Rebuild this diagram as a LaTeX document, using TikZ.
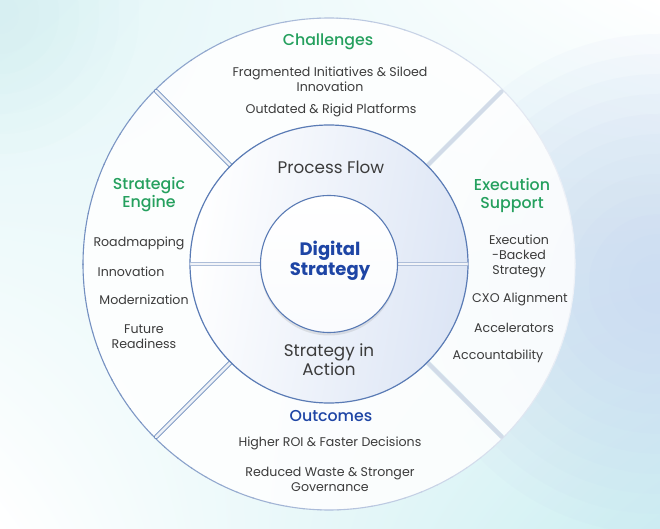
\documentclass[tikz,border=0pt]{standalone}
\usepackage{fontspec}
\setmainfont{Poppins}
\newfontfamily\medfont{Poppins Medium}
\usetikzlibrary{shadows,shadings}

\definecolor{ringblue}{HTML}{5A7BB5}
\definecolor{lightring}{HTML}{D2DBE8}
\definecolor{headgreen}{HTML}{25A05E}
\definecolor{headblue}{HTML}{1E45A5}
\definecolor{bodygray}{HTML}{3C3C3C}
\definecolor{bgblue}{HTML}{C2D2F2}
\definecolor{bgcyan}{HTML}{CDEFF2}
\definecolor{midshade}{HTML}{DCE5F5}

\tikzset{
  headtext/.style={font=\fontsize{15.8}{18}\medfont, text=headgreen, align=center, inner sep=0pt},
  bodytext/.style={font=\fontsize{12.6}{15}\selectfont, text=bodygray, align=center, inner sep=0pt},
  ringtext/.style={font=\fontsize{16.8}{19}\selectfont, text=bodygray, align=center, inner sep=0pt},
}

\begin{document}
\begin{tikzpicture}[x=1pt, y=1pt, line join=round, line cap=round]
	\tikzset{declare function={ro=246; rm=139; ri=68.5;}}
	\useasboundingbox (-329,-265) rectangle (331,264);
	% background
	\shade [upper left=bgcyan!60!white, upper right=white, lower left=white, lower right=bgcyan] (-329,-265) rectangle (331,264);
	\foreach \r in {30,50,...,250}{
		\fill [bgblue, opacity=.07] (330,-20) circle (\r);
	}
	\foreach \r in {20,40,...,140}{
		\fill [bgcyan, opacity=.07] (-330,250) circle (\r);
	}
	% outer sectors
	\foreach \a in {45,135,225,315}{
		\fill [white, opacity=.85] (\a+1.2:130) -- (\a+0.6:ro) arc (\a+0.6:\a+89.4:ro) -- (\a+88.8:130) arc (\a+88.8:\a+1.2:130) -- cycle;
	}
	\foreach \t in {0,4,...,356}{
		\pgfmathsetmacro\p{10+75*(1-cos(\t))/2}
		\draw [line width=1.1pt, ringblue!\p!white] (\t:ro) arc (\t:\t+4.2:ro);
	}
	\foreach \a in {135,225}{
		\draw [ringblue!85!white, line width=0.9pt, double=lightring!40!white, double distance=2.6pt] (\a:rm) -- (\a:ro-1.5);
	}
	\foreach \a in {45,-45}{
		\draw [lightring, line width=4pt] (\a:rm) -- (\a:ro-2);
	}
	% process ring
	\shade [left color=white, right color=midshade, shading angle=80] (0,0) circle (rm);
	\draw [ringblue, line width=1.2pt] (0,0) circle (rm);
	\draw [lightring!70!ringblue, line width=0.7pt, double=white!70!lightring, double distance=2.2pt] (-rm+1,0) -- (-ri,0) (ri,0) -- (rm-1,0);
	% core
	\node [circle, minimum size=137pt, draw=ringblue, line width=1.1pt, top color=white, bottom color=white!85!midshade, drop shadow={opacity=.18, shadow xshift=0pt, shadow yshift=-3pt}] (core) at (0,0) {};
	\node [font=\fontsize{18}{20}\selectfont\bfseries, text=headblue, align=center, inner sep=0pt] (corelabel) at (1,3) {Digital\\Strategy};
	% ring labels
	\node [ringtext] (flow) at (2,97) {Process Flow};
	\node [ringtext] (action) at (0,-95.5) {Strategy in\\Action};
	% sector heads
	\node [headtext] (challenges) at (-1,222) {Challenges};
	\node [headtext] (engine) at (-180,69) {Strategic\\Engine};
	\node [headtext] (support) at (183,69) {Execution\\Support};
	\node [headtext, text=headblue] (outcomes) at (2,-152) {Outcomes};
	% sector items
	\node [bodytext] (fragmented) at (1,184.5) {Fragmented Initiatives \& Siloed\\Innovation};
	\node [bodytext] (outdated) at (2,154) {Outdated \& Rigid Platforms};
	\node [bodytext] (roadmap) at (-190,21) {Roadmapping};
	\node [bodytext] (innovation) at (-198,-8) {Innovation};
	\node [bodytext] (modern) at (-185,-36) {Modernization};
	\node [bodytext] (future) at (-185,-72.5) {Future\\Readiness};
	\node [bodytext] (backed) at (190,8) {Execution\\-Backed\\Strategy};
	\node [bodytext] (cxo) at (191,-35) {CXO Alignment};
	\node [bodytext] (accel) at (185,-64) {Accelerators};
	\node [bodytext] (account) at (169,-92) {Accountability};
	\node [bodytext] (roi) at (1,-179) {Higher ROI \& Faster Decisions};
	\node [bodytext] (waste) at (1,-215.5) {Reduced Waste \& Stronger\\Governance};
\end{tikzpicture}
\end{document}
